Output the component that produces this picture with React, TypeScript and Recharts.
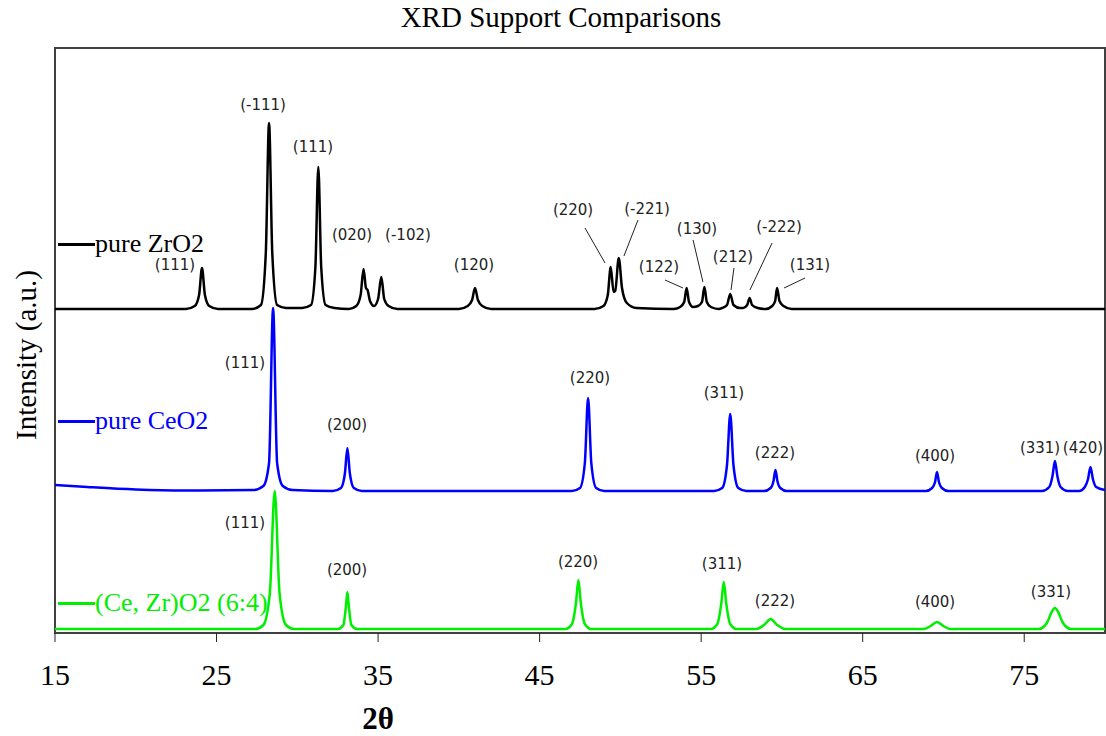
import React from 'react';
import {
    LineChart,
    Line,
    XAxis,
    YAxis,
    ReferenceArea,
    ReferenceDot,
    ReferenceLine,
    Label
} from 'recharts';

// 2θ (deg) vs intensity (a.u., stacked with offsets as in the figure)
const zro2: [number, number][] = [
    [15, 324], [23.1, 324], [23.65, 327], [23.92, 338], [24.1, 365], [24.28, 338], [24.55, 327], [25.1, 324],
    [27.2, 324], [27.75, 328], [28.05, 380], [28.25, 510], [28.45, 380], [28.75, 328], [29.3, 325],
    [30.3, 325], [30.85, 328], [31.12, 366], [31.3, 466], [31.48, 366], [31.75, 328], [32.3, 325],
    [33.2, 324], [33.65, 327], [33.92, 338], [34.1, 364], [34.25, 345], [34.35, 343], [34.5, 332], [34.75, 327],
    [35.0, 334], [35.2, 356], [35.38, 334], [35.65, 327], [36.2, 324],
    [40.0, 324], [40.55, 327], [40.82, 333], [41.0, 345], [41.18, 333], [41.45, 327], [42.0, 324],
    [48.4, 324], [48.95, 327], [49.22, 338], [49.4, 366], [49.58, 341], [49.68, 342], [49.9, 375], [50.1, 345],
    [50.4, 330], [51.0, 325],
    [53.3, 324], [53.7, 326], [53.95, 331], [54.1, 345], [54.25, 331], [54.5, 326],
    [54.8, 327], [55.05, 331], [55.2, 346], [55.35, 331], [55.6, 326], [56.1, 324],
    [56.3, 325], [56.6, 328], [56.8, 339], [57.0, 328], [57.4, 325],
    [57.6, 325], [57.85, 328], [58.0, 335], [58.15, 328], [58.5, 325],
    [59.0, 324], [59.4, 327], [59.58, 332], [59.7, 345], [59.85, 332], [60.1, 327], [60.6, 324],
    [80, 324]
];

const ceo2: [number, number][] = [
    [15, 148], [17, 146], [20, 143.5], [23, 142.5], [27.3, 143], [27.9, 147], [28.25, 170], [28.5, 325],
    [28.75, 170], [29.1, 147], [29.7, 143],
    [32.2, 142], [32.7, 145], [32.95, 160], [33.1, 185], [33.25, 160], [33.5, 145], [34.0, 142],
    [47.0, 142], [47.5, 145], [47.8, 170], [48.0, 235], [48.2, 170], [48.5, 145], [49.0, 142],
    [55.8, 142], [56.3, 145], [56.6, 168], [56.8, 219], [57.0, 168], [57.3, 145], [57.8, 142],
    [58.9, 142], [59.3, 145], [59.48, 152], [59.6, 163], [59.72, 152], [59.9, 145], [60.3, 142],
    [68.9, 142], [69.3, 145], [69.48, 151], [69.6, 161], [69.72, 151], [69.9, 145], [70.3, 142],
    [76.1, 142], [76.55, 146], [76.75, 157], [76.9, 172], [77.05, 157], [77.25, 146], [77.7, 142],
    [78.4, 142], [78.75, 146], [78.95, 154], [79.1, 166], [79.25, 154], [79.45, 146], [80, 143]
];

const cezr: [number, number][] = [
    [15, 4], [27.4, 4], [27.9, 8], [28.3, 40], [28.6, 142], [28.9, 40], [29.3, 8], [29.8, 4],
    [32.5, 4], [32.85, 8], [33.0, 25], [33.1, 41], [33.2, 25], [33.35, 8], [33.7, 4],
    [46.6, 4], [47.0, 9], [47.25, 30], [47.4, 53], [47.55, 30], [47.8, 9], [48.2, 4],
    [55.6, 4], [56.0, 9], [56.25, 30], [56.4, 51], [56.55, 30], [56.8, 9], [57.2, 4],
    [58.4, 4], [58.9, 8], [59.3, 14], [59.7, 8], [60.2, 4],
    [68.8, 4], [69.2, 7], [69.6, 11], [70.0, 7], [70.4, 4],
    [75.9, 4], [76.4, 10], [76.7, 21], [76.9, 25], [77.1, 21], [77.4, 10], [77.9, 4], [80, 4]
];

const xTicks = [15, 25, 35, 45, 55, 65, 75];

// peak indices: [2θ, height, label]
const peakLabels: [number, number, string][] = [
    [22.43, 368, '(111)'], [27.88, 528, '(-111)'], [30.97, 486, '(111)'], [33.39, 398, '(020)'],
    [36.85, 398, '(-102)'], [40.94, 368, '(120)'], [47.07, 423, '(220)'], [51.65, 424, '(-221)'],
    [52.39, 366, '(122)'], [54.74, 404, '(130)'], [56.97, 376, '(212)'], [59.82, 406, '(-222)'],
    [61.74, 368, '(131)'],
    [26.76, 270, '(111)'], [33.08, 208, '(200)'], [48.12, 255, '(220)'], [56.41, 240, '(311)'],
    [59.57, 180, '(222)'], [69.48, 177, '(400)'], [75.98, 185, '(331)'], [78.64, 185, '(420)'],
    [26.76, 110, '(111)'], [33.08, 63, '(200)'], [47.38, 71, '(220)'], [56.29, 69, '(311)'],
    [59.57, 32, '(222)'], [69.48, 31, '(400)'], [76.66, 41, '(331)']
];

const leaders: [number, number, number, number][] = [
    [47.81, 405, 49.05, 370], [51.09, 413, 50.22, 377], [52.76, 353, 53.88, 345],
    [54.5, 393, 55.11, 351], [57.03, 365, 56.85, 343], [59.39, 390, 58.02, 343],
    [61.43, 355, 60.13, 345]
];

const toPts = (arr: [number, number][]) => arr.map(([t, v]) => ({ t, v }));

const serif = '"Liberation Serif", "Times New Roman", serif';

const XTick = ({ x, y, payload }: any) => (
    <text x={x} y={y + 41} textAnchor="middle" fontFamily={serif} fontSize={30} fill="#000">
        {payload.value}
    </text>
);

const legendRows = [
    { name: 'pure ZrO2', color: '#000000', top: 244 },
    { name: 'pure CeO2', color: '#0000ff', top: 421 },
    { name: '(Ce, Zr)O2 (6:4)', color: '#00ee00', top: 603 }
];

export default function App() {
    return (
        <div style={{ position: 'absolute', left: 0, top: 0, width: 1106, height: 736, background: '#fff' }}>
            <div style={{ position: 'absolute', left: 0, top: 0, width: 1106, textAlign: 'center', fontFamily: serif, fontSize: 29, lineHeight: '34px', paddingLeft: 8 }}>
                XRD Support Comparisons
            </div>
            <LineChart width={1106} height={736} margin={{ top: 48, right: 1, bottom: 0, left: 0 }}>
                <XAxis
                    type="number"
                    dataKey="t"
                    domain={[15, 80]}
                    ticks={xTicks}
                    height={103}
                    tickSize={9}
                    tick={<XTick />}
                    axisLine={{ stroke: '#404040', strokeWidth: 2 }}
                    tickLine={{ stroke: '#222' }}
                    allowDataOverflow
                >
                    <Label
                        content={() => (
                            <text x={378} y={729} textAnchor="middle" fontFamily={serif} fontSize={31} fontWeight="bold">2θ</text>
                        )}
                    />
                </XAxis>
                <YAxis type="number" domain={[0, 585]} width={55} tick={false} axisLine={false} tickLine={false} allowDataOverflow>
                    <Label
                        content={() => (
                            <text x={36} y={355} transform="rotate(-90 36 355)" textAnchor="middle" fontFamily={serif} fontSize={29}>
                                Intensity (a.u.)
                            </text>
                        )}
                    />
                </YAxis>
                <ReferenceArea x1={15} x2={80} y1={0} y2={585} fill="none" stroke="#404040" strokeWidth={2} />
                {leaders.map(([x1, y1, x2, y2], i) => (
                    <ReferenceLine key={'l' + i} segment={[{ x: x1, y: y1 }, { x: x2, y: y2 }]} stroke="#222" strokeWidth={1} />
                ))}
                <Line data={toPts(zro2)} dataKey="v" type="monotone" stroke="#000" strokeWidth={2.5} dot={false} isAnimationActive={false} />
                <Line data={toPts(ceo2)} dataKey="v" type="monotone" stroke="#0000ff" strokeWidth={2.5} dot={false} isAnimationActive={false} />
                <Line data={toPts(cezr)} dataKey="v" type="monotone" stroke="#00ee00" strokeWidth={2.5} dot={false} isAnimationActive={false} />
                {peakLabels.map(([x, y, text], i) => (
                    <ReferenceDot
                        key={'p' + i}
                        x={x}
                        y={y}
                        r={0}
                        fill="none"
                        stroke="none"
                        label={{ value: text, position: 'center', fill: '#222', fontSize: 15, fontFamily: '"DejaVu Sans", sans-serif' }}
                    />
                ))}
            </LineChart>
            {legendRows.map(row => (
                <div key={row.name} style={{ position: 'absolute', left: 58, top: row.top - 16, height: 32, display: 'flex', alignItems: 'center', fontFamily: serif, fontSize: 26, color: row.color, whiteSpace: 'nowrap' }}>
                    <span style={{ display: 'inline-block', width: 37, height: 3, background: row.color, marginRight: 0 }} />
                    <span>{row.name}</span>
                </div>
            ))}
        </div>
    );
}
